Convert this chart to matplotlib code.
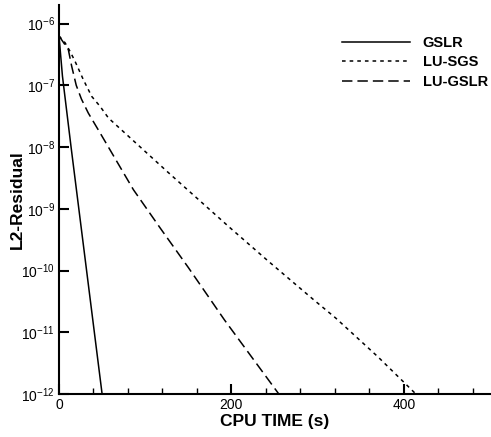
import numpy as np
import matplotlib
matplotlib.use("Agg")
import matplotlib.pyplot as plt
from matplotlib.ticker import FixedLocator, MultipleLocator, LogFormatterSciNotation, NullLocator

plt.rcParams['font.family'] = ['Liberation Sans', 'DejaVu Sans']
plt.rcParams['mathtext.fontset'] = 'custom'
plt.rcParams['mathtext.rm'] = 'Liberation Sans'
plt.rcParams['mathtext.it'] = 'Liberation Sans:italic'
plt.rcParams['mathtext.bf'] = 'Liberation Sans:bold'
plt.rcParams['axes.unicode_minus'] = False
plt.rcParams['lines.scale_dashes'] = False

# Convergence histories: CPU time (s) vs. L2 residual
gslr_time = [0, 4, 14, 50]
gslr_res = [6.3e-7, 1.41e-7, 1e-8, 1e-12]

lusgs_time = [0, 7, 12.8, 18.6, 28.3, 38, 47.6, 57.4, 125, 198.6, 243, 295, 321, 370, 414]
lusgs_res = [6.3e-7, 4.9e-7, 3.55e-7, 2.45e-7, 1.23e-7, 6.6e-8, 4.57e-8, 2.95e-8,
             4.07e-9, 4.9e-10, 1.41e-10, 3.4e-11, 1.7e-11, 4.0e-12, 1e-12]

lugslr_time = [0, 10.8, 14.7, 20, 26, 34, 47.6, 86.3, 117.3, 150, 192, 255]
lugslr_res = [6.3e-7, 3.8e-7, 2.04e-7, 1e-7, 6.0e-8, 3.55e-8, 1.7e-8, 2.04e-9,
              4.9e-10, 1.12e-10, 1.58e-11, 1e-12]

series_labels = ["GSLR", "LU-SGS", "LU-GSLR"]
y_decades = [1e-12, 1e-11, 1e-10, 1e-9, 1e-8, 1e-7, 1e-6]
x_major = [0, 200, 400]

fig = plt.figure(figsize=(4.91, 4.37), dpi=100)
ax = fig.add_axes([59/491, 43/437, 431/491, 389/437])

ax.plot(gslr_time, gslr_res, color='black', lw=1.1, linestyle='-', label=series_labels[0])
ax.plot(lusgs_time, lusgs_res, color='black', lw=1.1, linestyle=(0, (2.6, 2.9)), label=series_labels[1])
ax.plot(lugslr_time, lugslr_res, color='black', lw=1.1, linestyle=(0, (7.5, 3.6)), label=series_labels[2])

ax.set_yscale('log')
ax.set_xlim(0, 500)
ax.set_ylim(1e-12, 2e-6)

ax.yaxis.set_major_locator(FixedLocator(y_decades))
ax.yaxis.set_major_formatter(LogFormatterSciNotation())
ax.yaxis.set_minor_locator(NullLocator())
ax.xaxis.set_major_locator(FixedLocator(x_major))
ax.xaxis.set_minor_locator(MultipleLocator(40))

for side in ['top', 'right']:
    ax.spines[side].set_visible(False)
for side in ['left', 'bottom']:
    ax.spines[side].set_linewidth(1.5)

ax.tick_params(axis='both', which='major', direction='in', length=7, width=1.5,
               labelsize=10, pad=3)
ax.tick_params(axis='x', which='minor', direction='in', length=4, width=1.0)

ax.set_xlabel("CPU TIME (s)", fontsize=12.5, fontweight='bold', labelpad=1)
ax.set_ylabel("L2-Residual", fontsize=12.5, fontweight='bold', labelpad=-2.5)

leg = ax.legend(loc='upper left', bbox_to_anchor=(0.656, 0.92), frameon=False,
                prop={'weight': 'bold', 'size': 10.5}, handlelength=4.7,
                handletextpad=0.85, labelspacing=0.36, borderaxespad=0,
                borderpad=0)

fig.savefig("out.png", dpi=100)
